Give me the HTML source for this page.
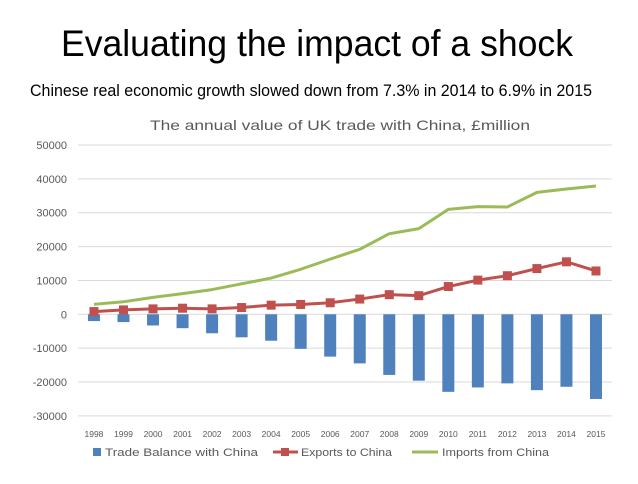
<!DOCTYPE html>
<html><head><meta charset="utf-8"><style>
body{margin:0;background:#fff;width:638px;height:479px;overflow:hidden;font-family:"Liberation Sans",sans-serif}
</style></head><body>
<svg width="638" height="479">
<text x="317" y="56" text-anchor="middle" font-size="37" textLength="512" lengthAdjust="spacingAndGlyphs" fill="#000">Evaluating the impact of a shock</text>
<text x="311" y="96" text-anchor="middle" font-size="16.5" textLength="562" lengthAdjust="spacingAndGlyphs" fill="#000">Chinese real economic growth slowed down from 7.3% in 2014 to 6.9% in 2015</text>
<text x="340" y="130" text-anchor="middle" font-size="14" textLength="380" lengthAdjust="spacingAndGlyphs" fill="#595959">The annual value of UK trade with China, £million</text>
<g id="grid"></g><g id="bars"></g><g id="lines"></g><g id="labels"></g>
<g font-size="11" fill="#595959">
<rect x="93" y="448" width="8" height="8" fill="#4f81bd"/>
<text x="105" y="456" textLength="153" lengthAdjust="spacingAndGlyphs">Trade Balance with China</text>
<line x1="273" y1="452" x2="298" y2="452" stroke="#c0504d" stroke-width="3"/>
<rect x="281" y="448" width="8" height="8" fill="#c0504d"/>
<text x="301" y="456" textLength="91" lengthAdjust="spacingAndGlyphs">Exports to China</text>
<line x1="412" y1="452" x2="438" y2="452" stroke="#9bbb59" stroke-width="3"/>
<text x="442" y="456" textLength="107" lengthAdjust="spacingAndGlyphs">Imports from China</text>
</g>
</svg>
<script>
const years=[1998,1999,2000,2001,2002,2003,2004,2005,2006,2007,2008,2009,2010,2011,2012,2013,2014,2015];
const balance=[-2000,-2300,-3300,-4100,-5600,-6800,-7800,-10200,-12500,-14500,-17900,-19600,-22900,-21600,-20400,-22400,-21400,-25000];
const exportsV=[800,1300,1600,1800,1600,2000,2700,2900,3400,4500,5800,5500,8200,10100,11400,13500,15500,12800];
const importsV=[2950,3700,5000,6100,7300,9000,10700,13300,16300,19200,23800,25300,31000,31800,31700,36000,37000,37900];
const yTicks=[50000,40000,30000,20000,10000,0,-10000,-20000,-30000];
const NS="http://www.w3.org/2000/svg";
const x0=79.2,bw=29.53;
function xs(i){return x0+bw*(i+0.5);}
function ys(v){return 314.3-(v)*(169.3/50000);}
function mk(t,a,p){const e=document.createElementNS(NS,t);for(const k in a)e.setAttribute(k,a[k]);p.appendChild(e);return e;}
const G=document.getElementById('grid'),B=document.getElementById('bars'),L=document.getElementById('lines'),T=document.getElementById('labels');
yTicks.forEach(v=>{
 const l=mk('line',{x1:78,x2:612,y1:ys(v),y2:ys(v),stroke:'#d9d9d9','stroke-width':1},G);
 
 
 const t=mk('text',{x:67,y:ys(v)+4,'text-anchor':'end','font-size':11,fill:'#595959'},T);
 t.textContent=v;
 
 
});
years.forEach((yr,i)=>{
 const t=mk('text',{x:xs(i),y:437,'text-anchor':'middle','font-size':8.5,fill:'#595959'},T);
 t.textContent=yr;
 
 
 const v=balance[i],y1=ys(0),y2=ys(v);
 const r=mk('rect',{x:xs(i)-6,y:Math.min(y1,y2),width:12,height:Math.abs(y2-y1),fill:'#4f81bd'},B);
 
 
});
function line(arr,col,name){
 const p=mk('polyline',{points:arr.map((v,i)=>xs(i)+','+ys(v)).join(' '),fill:'none',stroke:col,'stroke-width':3,'stroke-linejoin':'round'},L);
 
 
}
line(importsV,'#9bbb59','imports-line');
line(exportsV,'#c0504d','exports-line');
exportsV.forEach((v,i)=>{
 const r=mk('rect',{x:xs(i)-4.5,y:ys(v)-4.5,width:9,height:9,fill:'#c0504d'},L);
 
 
});
</script>
</body></html>
